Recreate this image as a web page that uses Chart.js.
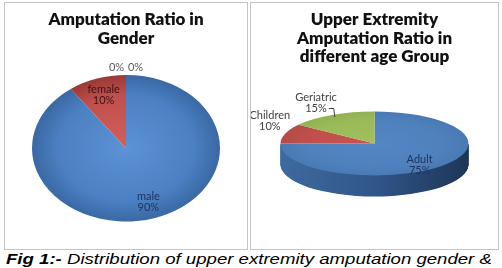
<!DOCTYPE html>
<html>
<head>
<meta charset="utf-8">
<script src="https://cdn.jsdelivr.net/npm/chart.js@4.4.1/dist/chart.umd.min.js"></script>
<style>
  html, body { margin: 0; padding: 0; background: #fff; }
  body { width: 502px; height: 268px; overflow: hidden; position: relative; }
  .panel { position: absolute; top: 2px; height: 248px; box-sizing: border-box; border: 1px solid #c4c4c4; background: #fff; }
  #left { left: 4px; width: 244px; }
  #right { left: 250px; width: 249px; }
  .panel canvas { display: block; }
  #caption { position: absolute; left: 6px; top: 251px; white-space: nowrap; color: #000;
    font: italic 15.5px "Liberation Sans", Arial, sans-serif; line-height: 16px;
    transform: scaleX(1.2); transform-origin: 0 0; }
</style>
</head>
<body>
<div class="panel" id="left"><canvas id="genderChart" width="242" height="246"></canvas></div>
<div class="panel" id="right"><canvas id="ageChart" width="247" height="246"></canvas></div>
<div id="caption"><b>Fig 1:-</b> Distribution of upper extremity amputation gender &amp;</div>

<script>
// data
const genderTitle = ['Amputation Ratio in', 'Gender'];
const genderCategories = ['male', 'female', '', ''];
const genderValues = [90, 10, 0, 0];

const ageTitle = ['Upper Extremity', 'Amputation Ratio in', 'different age Group'];
const ageCategories = ['Adult', 'Children', 'Geriatric'];
const ageValues = [75, 10, 15];

const PIE_RADIUS = 94;

// radial shading for the pie faces: [centre, mid, edge]
function faceFill(shades) {
  return (c) => {
    const chart = c.chart;
    const area = chart.chartArea;
    const s = shades[c.dataIndex];
    if (!area) return s[1];
    const cx = (area.left + area.right) / 2;
    const cy = (area.top + area.bottom) / 2;
    const g = chart.ctx.createRadialGradient(cx, cy, 0, cx, cy, PIE_RADIUS);
    g.addColorStop(0, s[0]);
    g.addColorStop(0.72, s[1]);
    g.addColorStop(1, s[2]);
    return g;
  };
}

// squashes the pie into an ellipse, adds 3d side and draws the data labels
const pieShape = {
  id: 'pieShape',
  beforeDatasetsDraw(chart, args, opts) {
    const { ctx } = chart;
    const meta = chart.getDatasetMeta(0);
    const a0 = meta.data[0];
    ctx.save();
    ctx.translate(a0.x, a0.y);
    ctx.scale(1, opts.squash);
    ctx.translate(-a0.x, -a0.y);
    if (opts.depth) {
      meta.data.forEach((arc, i) => {
        // only the front half of the rim can be seen
        const start = Math.max(arc.startAngle, 0);
        const end = Math.min(arc.endAngle, Math.PI);
        if (end <= start) return;
        const g = ctx.createLinearGradient(arc.x - arc.outerRadius, 0, arc.x + arc.outerRadius, 0);
        g.addColorStop(0, opts.sideColors[i][0]);
        g.addColorStop(0.5, opts.sideColors[i][1]);
        g.addColorStop(1, opts.sideColors[i][2]);
        ctx.fillStyle = g;
        for (let d = opts.depth; d > 0; d -= 0.5) {
          const off = d / opts.squash;
          ctx.beginPath();
          ctx.moveTo(arc.x, arc.y + off);
          ctx.arc(arc.x, arc.y + off, arc.outerRadius, start, end);
          ctx.closePath();
          ctx.fill();
        }
      });
    }
  },
  afterDatasetsDraw(chart, args, opts) {
    const { ctx } = chart;
    ctx.restore();

    const meta = chart.getDatasetMeta(0);
    const values = chart.data.datasets[0].data;
    const total = values.reduce((a, b) => a + b, 0);
    const zeros = values.map((v, i) => (v === 0 ? i : -1)).filter(i => i >= 0);
    const sq = opts.squash;

    ctx.save();
    ctx.font = '11px Lato, "Open Sans", sans-serif';
    ctx.textAlign = 'center';
    ctx.textBaseline = 'middle';
    meta.data.forEach((arc, i) => {
      const v = values[i];
      const lines = [];
      if (chart.data.labels[i]) lines.push(chart.data.labels[i]);
      lines.push(Math.round(v / total * 100) + '%');
      const mid = (arc.startAngle + arc.endAngle) / 2;
      const cos = Math.cos(mid), sin = Math.sin(mid);
      const r = arc.outerRadius;
      let x, y;
      if (v === 0) {
        const k = zeros.indexOf(i);
        x = arc.x + (k - (zeros.length - 1) / 2) * 19;
        y = arc.y - r * sq - 7.5;
      } else if (opts.outside.includes(i)) {
        const ex = arc.x + r * cos, ey = arc.y + r * sq * sin;
        const w = Math.max(...lines.map(t => ctx.measureText(t).width));
        x = ex + Math.sign(cos) * (w / 2 - 5);
        y = ey - 12.5;
        if (opts.leaders.includes(i)) {
          const wl = ctx.measureText(lines[lines.length - 1]).width;
          const sx = x + wl / 2 + 2, sy = y + 6;
          ctx.strokeStyle = '#404040';
          ctx.lineWidth = 1;
          ctx.beginPath();
          ctx.moveTo(sx, sy);
          ctx.lineTo(sx + 5, sy);
          ctx.lineTo(ex + 3, ey + 2);
          ctx.stroke();
        }
      } else {
        x = arc.x + r * opts.labelRadius * cos;
        y = arc.y + r * opts.labelRadius * sq * sin + (opts.depth || 0) * 0.3;
      }
      ctx.fillStyle = opts.labelColors[i];
      lines.forEach((t, j) => ctx.fillText(t, x, y + (j - (lines.length - 1) / 2) * 11));
    });
    ctx.restore();
  }
};

function titleOpts(text) {
  return {
    display: true,
    text: text,
    color: '#111',
    font: { family: 'Lato, "Open Sans", sans-serif', size: 17, weight: 800, lineHeight: 1.1 },
    padding: { top: 7, bottom: 0 }
  };
}

new Chart(document.getElementById('genderChart'), {
  type: 'pie',
  data: {
    labels: genderCategories,
    datasets: [{
      data: genderValues,
      backgroundColor: faceFill([
        ['#5c92d6', '#4b80c2', '#3a69a4'],
        ['#d45f5b', '#c0504d', '#9a3936'],
        ['#9bbb59', '#9bbb59', '#9bbb59'],
        ['#8064a2', '#8064a2', '#8064a2']
      ]),
      borderWidth: 0,
      radius: PIE_RADIUS,
      clip: false
    }]
  },
  options: {
    responsive: false,
    animation: false,
    events: [],
    layout: { padding: { bottom: 0 } },
    plugins: {
      legend: { display: false },
      tooltip: { enabled: false },
      title: titleOpts(genderTitle),
      pieShape: {
        squash: 0.78, depth: 0, labelRadius: 0.77,
        outside: [], leaders: [],
        labelColors: ['#1f3560', '#3a1312', '#595959', '#595959']
      }
    }
  },
  plugins: [pieShape]
});

new Chart(document.getElementById('ageChart'), {
  type: 'pie',
  data: {
    labels: ageCategories,
    datasets: [{
      data: ageValues,
      backgroundColor: faceFill([
        ['#5386c4', '#4f81bd', '#4a7ab4'],
        ['#c9534f', '#c0504d', '#b44a47'],
        ['#a0c05e', '#9bbb59', '#92b153']
      ]),
      borderWidth: 0,
      radius: PIE_RADIUS,
      clip: false
    }]
  },
  options: {
    responsive: false,
    animation: false,
    events: [],
    layout: { padding: { bottom: 28 } },
    plugins: {
      legend: { display: false },
      tooltip: { enabled: false },
      title: titleOpts(ageTitle),
      pieShape: {
        squash: 0.34, depth: 21, labelRadius: 0.68,
        outside: [1, 2], leaders: [2],
        sideColors: [
          ['#3f6a9f', '#30568a', '#1d3657'],
          ['#9a3c39', '#85302e', '#6a2422'],
          ['#7f9c45', '#6e883b', '#58702e']
        ],
        labelColors: ['#1f3560', '#404040', '#404040']
      }
    }
  },
  plugins: [pieShape]
});
</script>
</body>
</html>
